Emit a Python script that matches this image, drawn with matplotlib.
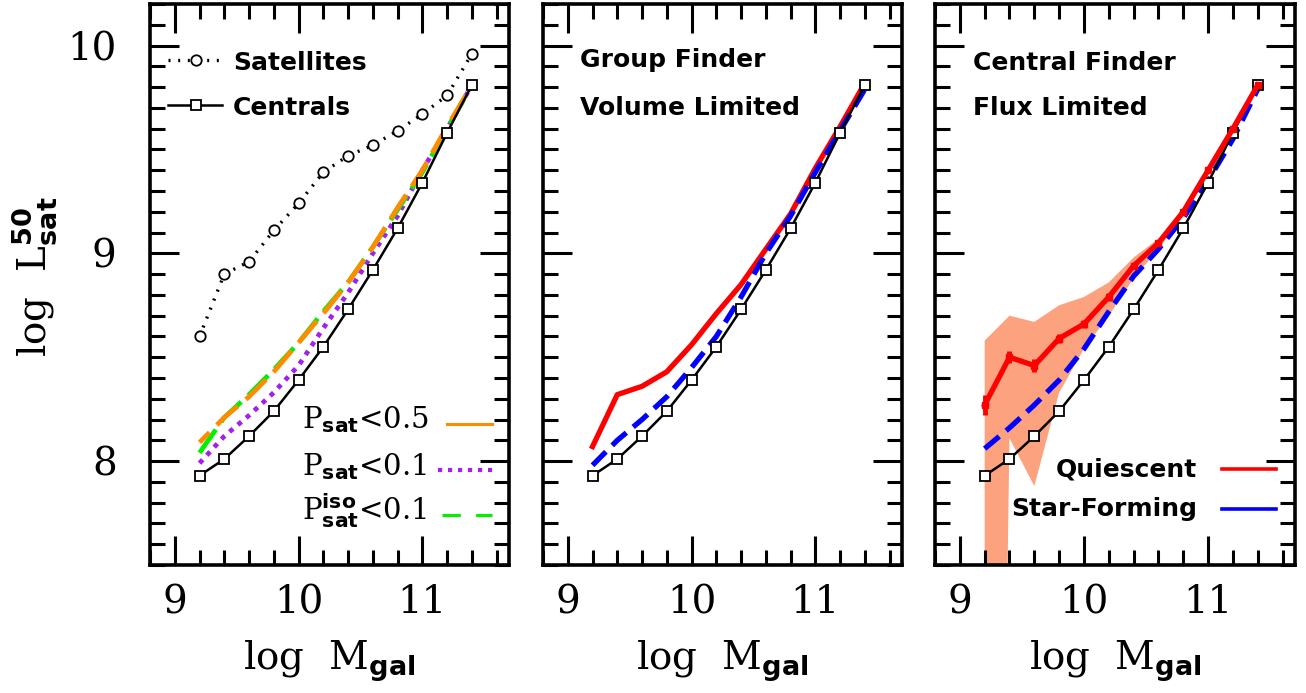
import numpy as np
import matplotlib
matplotlib.use("Agg")
import matplotlib.pyplot as plt
from matplotlib.ticker import MultipleLocator

plt.rcParams["font.family"] = ["DejaVu Serif"]
plt.rcParams["mathtext.fontset"] = "custom"
plt.rcParams["mathtext.rm"] = "DejaVu Serif"
plt.rcParams["mathtext.bf"] = "DejaVu Sans:bold"

# ---- data -------------------------------------------------------------
log_mgal = [9.2, 9.4, 9.6, 9.8, 10.0, 10.2, 10.4, 10.6, 10.8, 11.0, 11.2, 11.4]

centrals = [7.93, 8.01, 8.12, 8.24, 8.39, 8.55, 8.73, 8.92, 9.12, 9.34, 9.58, 9.81]
satellites = [8.60, 8.90, 8.96, 9.11, 9.24, 9.39, 9.47, 9.52, 9.59, 9.67, 9.76, 9.96]

psat_05 = [8.09, 8.21, 8.31, 8.43, 8.57, 8.71, 8.86, 9.03, 9.22, 9.40, 9.61, 9.81]
psat_01 = [7.99, 8.12, 8.22, 8.33, 8.46, 8.64, 8.81, 9.00, 9.18, 9.40, 9.60, 9.81]
psat_iso_01 = [8.04, 8.21, 8.32, 8.44, 8.57, 8.72, 8.86, 9.03, 9.21, 9.39, 9.60, 9.81]

gf_quiescent = [8.07, 8.32, 8.36, 8.43, 8.56, 8.71, 8.85, 9.02, 9.19, 9.41, 9.61, 9.82]
gf_starforming = [7.98, 8.10, 8.20, 8.31, 8.45, 8.60, 8.79, 9.00, 9.18, 9.39, 9.59, 9.79]

cf_quiescent = [8.27, 8.50, 8.46, 8.59, 8.66, 8.79, 8.94, 9.05, 9.20, 9.40, 9.60, 9.81]
cf_quiescent_err = [0.05, 0.03, 0.03, 0.02, 0.02, 0.02, 0.01, 0.01, 0.01, 0.01, 0.01, 0.01]
cf_quiescent_lo = [0.0, 8.11, 7.88, 8.33, 8.54, 8.70, 8.88, 9.02, 9.18, 9.39, 9.59, 9.80]
cf_quiescent_hi = [8.58, 8.70, 8.67, 8.75, 8.79, 8.86, 8.98, 9.07, 9.22, 9.42, 9.62, 9.83]
cf_starforming = [8.06, 8.16, 8.27, 8.39, 8.54, 8.72, 8.89, 9.02, 9.17, 9.35, 9.55, 9.79]

xticks = [9, 10, 11]
yticks = [8, 9, 10]

# ---- figure -----------------------------------------------------------
W, H = 1306, 693
fig = plt.figure(figsize=(W / 100, H / 100), dpi=100)


def px_axes(x0, x1, y0, y1):
    return fig.add_axes([x0 / W, 1 - y1 / H, (x1 - x0) / W, (y1 - y0) / H])


axes = [px_axes(150, 509, 4, 565), px_axes(543, 902, 4, 565), px_axes(935, 1295, 4, 565)]

for i, ax in enumerate(axes):
    ax.set_xlim(8.8, 11.7)
    ax.set_ylim(7.5, 10.2)
    ax.set_xticks(xticks)
    ax.set_yticks(yticks)
    ax.xaxis.set_minor_locator(MultipleLocator(0.2))
    ax.yaxis.set_minor_locator(MultipleLocator(0.1))
    ax.tick_params(which="both", direction="in", top=True, right=True, width=2.2,
                   labelsize=28)
    ax.tick_params(which="major", length=21)
    ax.tick_params(which="minor", length=11)
    ax.tick_params(axis="x", pad=14)
    ax.tick_params(axis="y", pad=24)
    for s in ax.spines.values():
        s.set_linewidth(2.6)
    if i > 0:
        ax.set_yticklabels([])
    ax.text(0.5, -0.187, r"log  M$_{\mathbf{gal}}$", transform=ax.transAxes,
            ha="center", va="baseline", fontsize=28)
    # centrals reference curve in every panel
    ax.plot(log_mgal, centrals, color="black", lw=1.8, marker="s", ms=7,
            mfc="white", mec="black", mew=1.3, zorder=5)

fig.text(34.5 / W, 1 - 277 / H, r"log  L$^{\mathbf{50}}_{\mathbf{sat}}$", rotation=90,
         ha="center", va="center", fontsize=28)

bold = dict(family="DejaVu Sans", fontweight="bold", fontsize=18)
sat_dots = (0, (0.6, 2.3))

# ---- left panel -------------------------------------------------------
ax = axes[0]
ax.plot(log_mgal, satellites, color="black", lw=2.4, ls=sat_dots,
        marker="o", ms=7.5, mfc="white", mec="black", mew=1.3, zorder=5)
ax.plot(log_mgal, psat_01, color="#A020F0", lw=3.4, ls=(0, (1.0, 1.3)), zorder=3)
ax.plot(log_mgal, psat_iso_01, color="#00F000", lw=3.4, ls=(0, (6, 2)), zorder=3)
ax.plot(log_mgal, psat_05, color="#FF8C00", lw=3.4, ls=(3, (6, 2.2)), zorder=4)

ax.plot([0.050, 0.2006], [0.900, 0.900], transform=ax.transAxes, color="black",
        lw=2.4, ls=sat_dots)
ax.plot([0.128], [0.900], transform=ax.transAxes, marker="o", ms=7.5, mfc="white",
        mec="black", mew=1.3)
ax.plot([0.050, 0.2006], [0.820, 0.820], transform=ax.transAxes, color="black", lw=1.8)
ax.plot([0.128], [0.820], transform=ax.transAxes, marker="s", ms=7, mfc="white",
        mec="black", mew=1.3)
ax.text(0.231, 0.882, "Satellites", transform=ax.transAxes, va="baseline", **bold)
ax.text(0.231, 0.802, "Centrals", transform=ax.transAxes, va="baseline", **bold)

ax.text(0.423, 0.244, r"P$_{\mathbf{sat}}$<0.5", transform=ax.transAxes,
        va="baseline", fontsize=21)
ax.text(0.423, 0.160, r"P$_{\mathbf{sat}}$<0.1", transform=ax.transAxes,
        va="baseline", fontsize=21)
ax.text(0.423, 0.080, r"P$^{\mathbf{iso}}_{\mathbf{sat}}$<0.1", transform=ax.transAxes,
        va="baseline", fontsize=21)
ax.plot([0.827, 0.953], [0.2513, 0.2513], transform=ax.transAxes, color="#FF8C00", lw=2.2)
ax.plot([0.802, 0.953], [0.1693, 0.1693], transform=ax.transAxes, color="#A020F0",
        lw=3.0, ls=(0, (1.0, 1.4)))
ax.plot([0.813, 0.953], [0.0891, 0.0891], transform=ax.transAxes, color="#00F000",
        lw=2.2, ls=(0, (6, 5)))

# ---- middle panel -----------------------------------------------------
ax = axes[1]
ax.plot(log_mgal, gf_quiescent, color="red", lw=3.8, zorder=4)
ax.plot(log_mgal, gf_starforming, color="blue", lw=3.8, ls=(0, (3.6, 1.7)), zorder=4)
ax.text(0.103, 0.8877, "Group Finder", transform=ax.transAxes, va="baseline", **bold)
ax.text(0.103, 0.802, "Volume Limited", transform=ax.transAxes, va="baseline", **bold)

# ---- right panel ------------------------------------------------------
ax = axes[2]
ax.fill_between(log_mgal, cf_quiescent_lo, cf_quiescent_hi, color="#FCA27E", lw=0,
                zorder=1)
ax.plot(log_mgal, cf_starforming, color="blue", lw=3.8, ls=(0, (3.6, 1.7)), zorder=4)
ax.errorbar(log_mgal, cf_quiescent, yerr=cf_quiescent_err, color="red", lw=3.8,
            marker="s", ms=5, elinewidth=3.5, capsize=0, zorder=6)
ax.text(0.1056, 0.882, "Central Finder", transform=ax.transAxes, va="baseline", **bold)
ax.text(0.1056, 0.802, "Flux Limited", transform=ax.transAxes, va="baseline", **bold)
ax.text(0.7278, 0.157, "Quiescent", transform=ax.transAxes, va="baseline", ha="right",
        **bold)
ax.text(0.7278, 0.0873, "Star-Forming", transform=ax.transAxes, va="baseline",
        ha="right", **bold)
ax.plot([0.798, 0.9472], [0.171, 0.171], transform=ax.transAxes, color="red", lw=2.6)
ax.plot([0.798, 0.9472], [0.0998, 0.0998], transform=ax.transAxes, color="blue", lw=2.6)

fig.savefig("out.png", dpi=100)
